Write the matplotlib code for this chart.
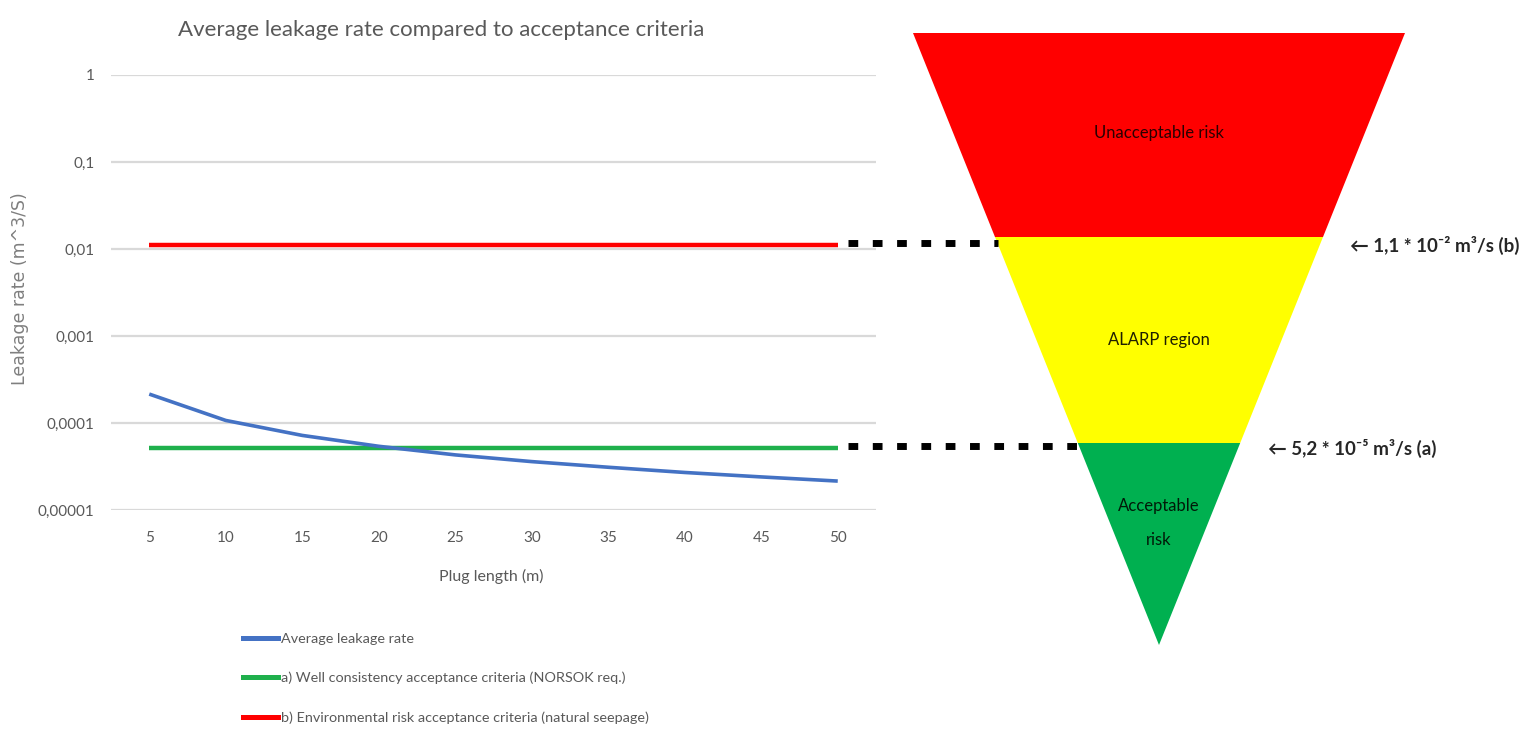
import matplotlib
matplotlib.use("Agg")
import matplotlib.pyplot as plt
from matplotlib.lines import Line2D
from matplotlib.patches import Polygon

# ---- data -------------------------------------------------------------
plug_length = [5, 10, 15, 20, 25, 30, 35, 40, 45, 50]
avg_leakage = [2.15e-4, 1.07e-4, 7.2e-5, 5.4e-5, 4.3e-5, 3.6e-5, 3.1e-5, 2.7e-5, 2.4e-5, 2.15e-5]
well_criteria = 5.2e-5      # a) NORSOK requirement
env_criteria = 1.1e-2       # b) natural seepage
y_ticks = [1e-5, 1e-4, 1e-3, 1e-2, 1e-1, 1]
y_tick_labels = ["0,00001", "0,0001", "0,001", "0,01", "0,1", "1"]
series_labels = ["Average leakage rate",
                 "a) Well consistency acceptance criteria (NORSOK req.)",
                 "b) Environmental risk acceptance criteria (natural seepage)"]
zone_labels = ["Unacceptable risk", "ALARP region", "Acceptable\nrisk"]
threshold_labels = ["\u2190 1,1 * 10\u207b\u00b2 m\u00b3/s (b)",
                    "\u2190 5,2 * 10\u207b\u2075 m\u00b3/s (a)"]

# ---- style ------------------------------------------------------------
W, H = 1536, 731
FONT = ["Lato", "DejaVu Sans"]
GRAY = "#595959"
BLUE, GREEN, RED = "#4472c4", "#1fb04c", "#ff0000"

fig = plt.figure(figsize=(W / 100, H / 100), dpi=100)
fig.patch.set_facecolor("white")

ax = fig.add_axes([111 / W, 1 - 510 / H, (876 - 111) / W, (510 - 75) / H])
ax.set_facecolor("none")
ax.set_yscale("log")
ax.set_ylim(1e-5, 1)
ax.set_xlim(2.5, 52.5)

ax.plot(plug_length, avg_leakage, color=BLUE, lw=2.6, solid_capstyle="butt", zorder=4)
ax.plot(plug_length, [well_criteria] * len(plug_length), color=GREEN, lw=3.2,
        solid_capstyle="butt", zorder=3)
ax.plot(plug_length, [env_criteria] * len(plug_length), color=RED, lw=3.2,
        solid_capstyle="butt", zorder=3)

ax.set_yticks(y_ticks)
ax.set_yticklabels(y_tick_labels, family=FONT, fontsize=11, color=GRAY)
ax.yaxis.set_minor_locator(matplotlib.ticker.NullLocator())
ax.set_xticks(plug_length)
ax.set_xticklabels([str(v) for v in plug_length], family=FONT, fontsize=11, color=GRAY)
ax.tick_params(axis="x", length=0, pad=15)
ax.tick_params(axis="y", length=0, pad=12)
ax.grid(axis="y", color="#d9d9d9", lw=1.6)
ax.grid(axis="x", visible=False)
for s in ax.spines.values():
    s.set_visible(False)

fig.text(441 / W, 1 - 30 / H, "Average leakage rate compared to acceptance criteria",
         ha="center", va="center", family=FONT, fontsize=16, color=GRAY)
fig.text(491 / W, 1 - 576 / H, "Plug length (m)", ha="center", va="center",
         family=FONT, fontsize=11.5, color=GRAY)
fig.text(20 / W, 1 - 289 / H, "Leakage rate (m^3/S)", ha="center", va="center",
         rotation=90, family="DejaVu Sans", fontsize=12.5, color="#7f7f7f")

handles = [Line2D([], [], color=c, lw=3.6) for c in (BLUE, GREEN, RED)]
fig.legend(handles, series_labels, loc="upper left",
           bbox_to_anchor=(230 / W, 1 - 620 / H), frameon=False,
           prop={"family": FONT, "size": 10.4}, labelcolor=GRAY,
           handlelength=2.4, handletextpad=0.2, labelspacing=1.85)

# ---- risk triangle overlay (pixel coordinates) -------------------------
ov = fig.add_axes([0, 0, 1, 1])
ov.set_xlim(0, W)
ov.set_ylim(H, 0)
ov.axis("off")
ov.set_facecolor("none")

top_y, apex_y, cx, half_top = 33, 645, 1159, 246
bands = [(top_y, 237, RED), (237, 443, "#ffff00"), (443, apex_y, "#00b050")]


def half_width(y):
    return half_top * (apex_y - y) / (apex_y - top_y)


for y0, y1, col in bands:
    pts = [(cx - half_width(y0), y0), (cx + half_width(y0), y0),
           (cx + half_width(y1), y1), (cx - half_width(y1), y1)]
    ov.add_patch(Polygon(pts, closed=True, facecolor=col, edgecolor="none"))

ov.text(cx, 133, zone_labels[0], ha="center", va="center", family=FONT,
        fontsize=12, color="#2a0000")
ov.text(cx, 340, zone_labels[1], ha="center", va="center", family=FONT,
        fontsize=12, color="#1f1f00")
ov.text(cx, 523, zone_labels[2], ha="center", va="center", family=FONT,
        fontsize=12, color="#001a08", linespacing=2.4)

# dotted connectors from the criteria lines to the triangle
fig.canvas.draw()
for val in (env_criteria, well_criteria):
    ypix = H - ax.transData.transform((50, val))[1]
    ov.plot([848, cx - half_width(ypix)], [ypix - 2, ypix - 2], color="black",
            lw=5, ls=(0, (1.4, 2.1)), solid_capstyle="butt", dash_capstyle="butt")

ov.text(1350, 245, threshold_labels[0], ha="left", va="center", family=FONT,
        fontsize=13.5, color="#262626", fontweight="bold")
ov.text(1268, 448, threshold_labels[1], ha="left", va="center", family=FONT,
        fontsize=13.5, color="#262626", fontweight="bold")

fig.savefig("out.png", dpi=100, facecolor="white")
